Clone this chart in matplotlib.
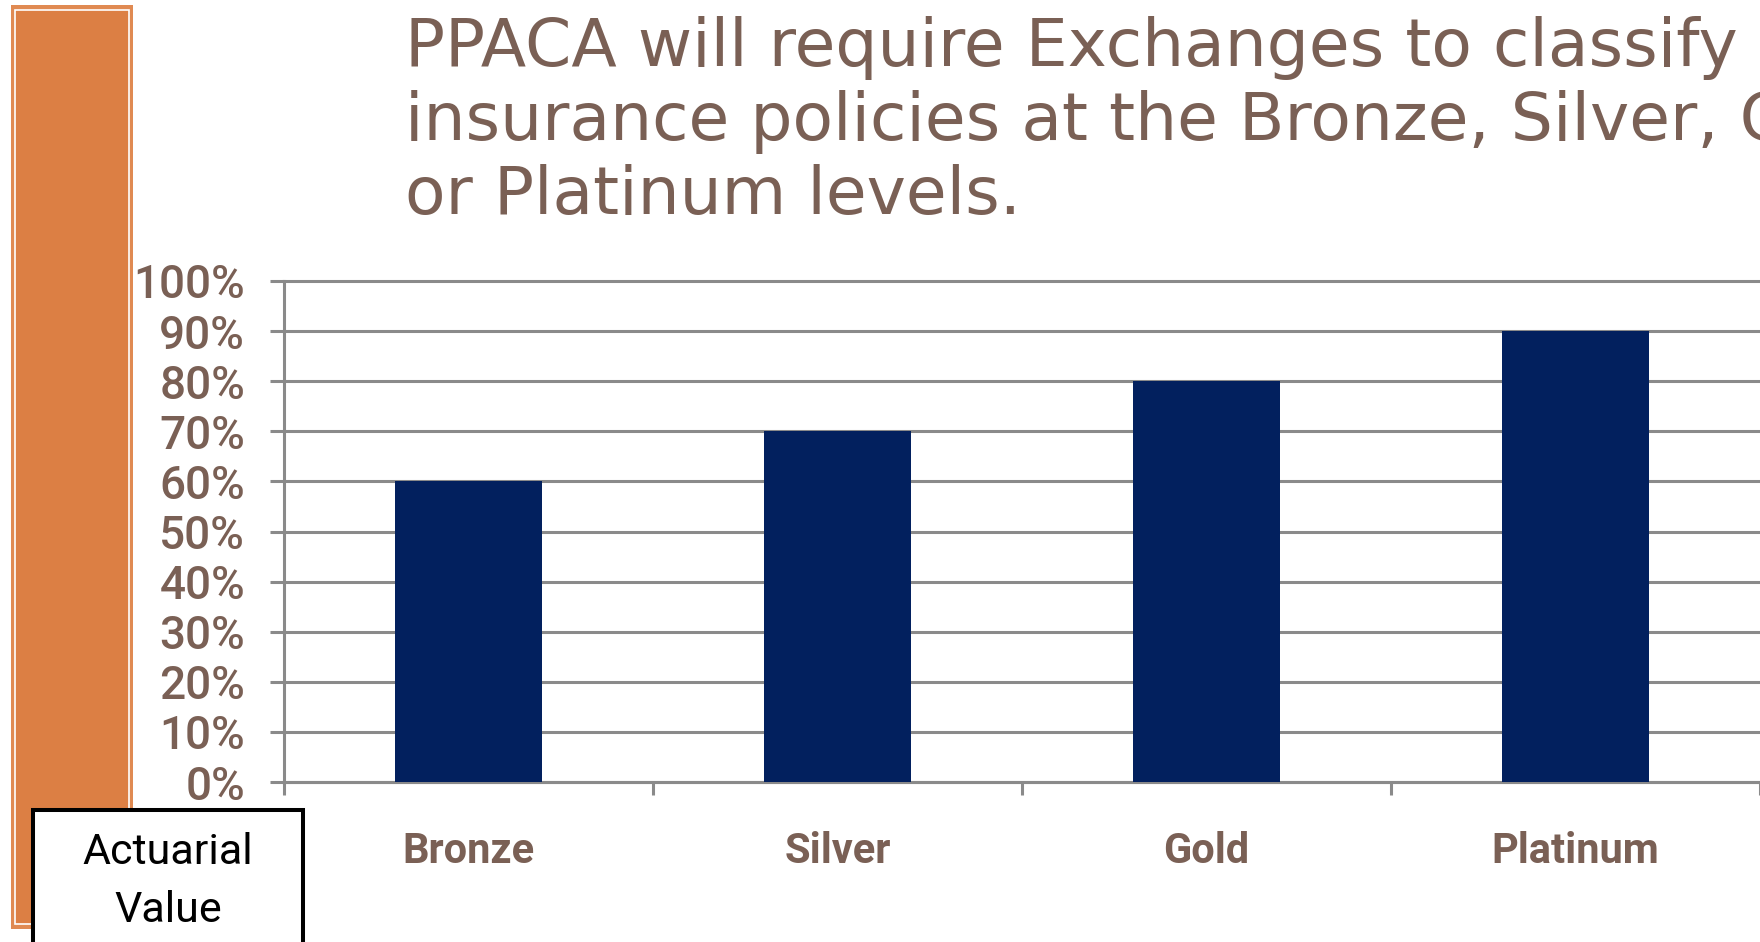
import matplotlib
matplotlib.use('Agg')
import matplotlib.pyplot as plt
from matplotlib.patches import Rectangle

# ---- data ----
categories = ['Bronze', 'Silver', 'Gold', 'Platinum']
actuarial_values = [0.60, 0.70, 0.80, 0.90]
y_ticks = [0.0, 0.1, 0.2, 0.3, 0.4, 0.5, 0.6, 0.7, 0.8, 0.9, 1.0]
y_tick_labels = ['0%', '10%', '20%', '30%', '40%', '50%', '60%', '70%', '80%', '90%', '100%']
x_boundaries = [-0.5, 0.5, 1.5, 2.5, 3.5]
title_lines = ['PPACA will require Exchanges to classify',
               'insurance policies at the Bronze, Silver, Gold,',
               'or Platinum levels.']
box_lines = ['Actuarial', 'Value']

# ---- style ----
BROWN = '#7A6055'
GRID = '#8A8A8A'
NAVY = '#02205E'
ORANGE = '#DC7F44'

W, H = 1760, 942
fig = plt.figure(figsize=(W / 100, H / 100), dpi=100)
fig.patch.set_facecolor('white')


def fx(x):
    return x / W


def fy(y):
    return 1 - y / H


# left orange decorative bar
fig.patches.append(Rectangle((fx(11), fy(929)), fx(133) - fx(11), fy(5) - fy(929),
                             transform=fig.transFigure, facecolor='#E08A52',
                             edgecolor='none', zorder=-2))
fig.patches.append(Rectangle((fx(15), fy(924)), fx(129) - fx(15), fy(10) - fy(924),
                             transform=fig.transFigure, facecolor=ORANGE,
                             edgecolor='white', linewidth=1.2, zorder=-1))

ax = fig.add_axes([fx(284), fy(782), fx(1760) - fx(284), fy(281) - fy(782)])
xpos = list(range(len(categories)))
ax.bar(xpos, actuarial_values, width=0.4, color=NAVY, zorder=3)
ax.set_xlim(-0.5, 3.5)
ax.set_ylim(0, 1)

ax.set_yticks(y_ticks)
ax.set_yticklabels(y_tick_labels, fontfamily='Roboto', fontsize=33,
                   fontweight='medium', color=BROWN)
ax.tick_params(axis='y', length=10, width=2.2, color=GRID, pad=18)
ax.yaxis.grid(True, color=GRID, linewidth=2.2)
for gl in ax.get_ygridlines():
    gl.set_clip_on(False)
ax.set_axisbelow(True)

ax.set_xticks(xpos)
ax.set_xticklabels(categories, fontfamily='Roboto', fontsize=30,
                   fontweight='bold', color=BROWN)
for lbl in ax.get_xticklabels():
    lbl.set_va('center')
ax.tick_params(axis='x', which='major', length=0, pad=49.7)
ax.set_xticks(x_boundaries, minor=True)
ax.tick_params(axis='x', which='minor', length=9.4, width=2.2, color=GRID)

for s in ['top', 'right']:
    ax.spines[s].set_visible(False)
for s in ['left', 'bottom']:
    ax.spines[s].set_color(GRID)
    ax.spines[s].set_linewidth(2.2)

# title lines
for line, base in zip(title_lines, [66, 140, 214]):
    fig.text(fx(405), fy(base), line, ha='left', va='baseline',
             fontfamily='DejaVu Sans', fontsize=47.8, color=BROWN)

# "Actuarial Value" box
fig.patches.append(Rectangle((fx(33), fy(980)), fx(303) - fx(33), fy(810) - fy(980),
                             transform=fig.transFigure, facecolor='white',
                             edgecolor='black', linewidth=2.9, zorder=10))
for line, yc in zip(box_lines, [853, 911]):
    fig.text(fx(168), fy(yc), line, ha='center', va='center',
             fontfamily='Roboto', fontsize=31, color='black', zorder=11)

fig.savefig('out.png', dpi=100)
